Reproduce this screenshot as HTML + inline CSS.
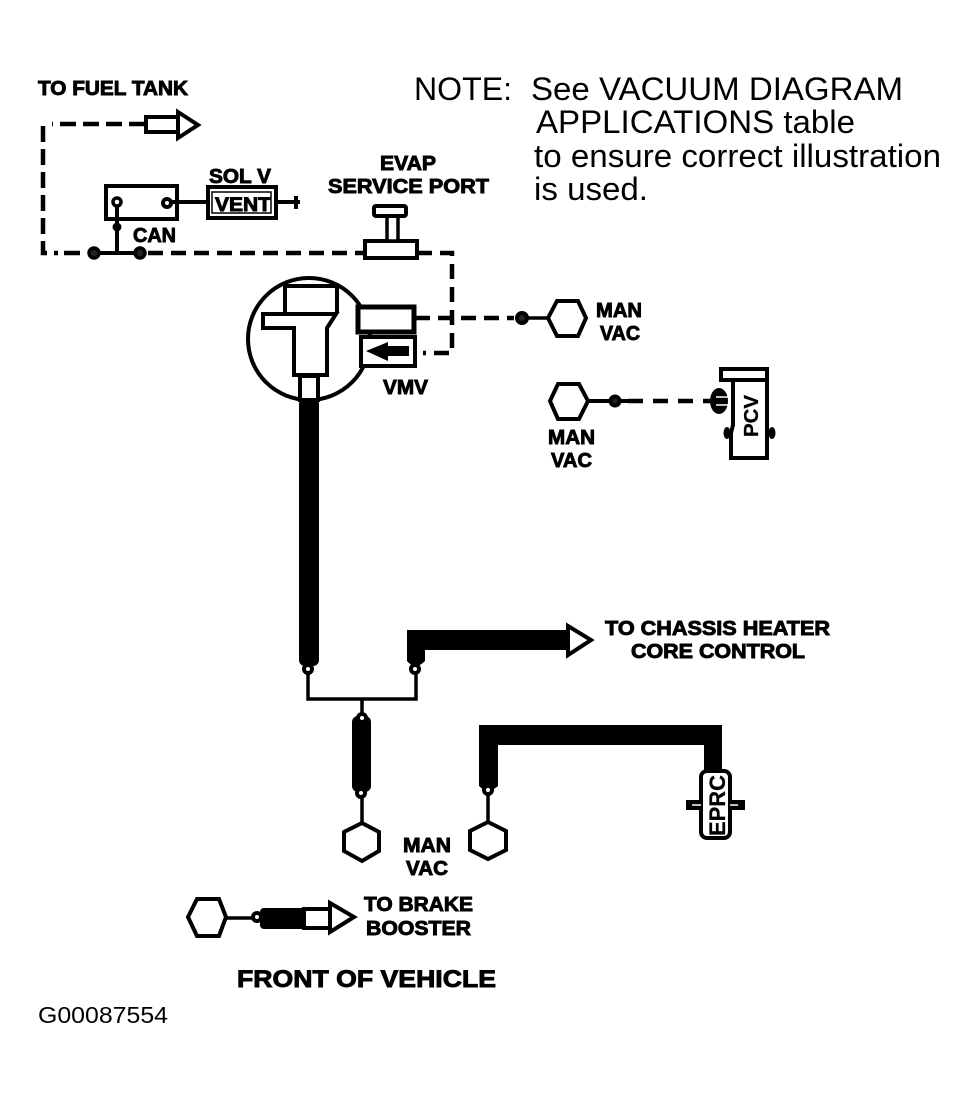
<!DOCTYPE html>
<html><head><meta charset="utf-8"><style>
html,body{margin:0;padding:0;background:#fff}
svg{display:block}
text{font-family:"Liberation Sans",sans-serif;fill:#000}
.b{font-weight:bold;stroke:#000;stroke-width:.9}
.t{font-weight:bold;stroke:#000;stroke-width:.3}
</style></head><body>
<svg width="976" height="1099" viewBox="0 0 976 1099" xmlns="http://www.w3.org/2000/svg">
<rect width="976" height="1099" fill="#fff"/>

<!-- Note text -->
<text x="414" y="100" font-size="32" textLength="98" lengthAdjust="spacingAndGlyphs">NOTE:</text>
<text x="531" y="100" font-size="32" textLength="372" lengthAdjust="spacingAndGlyphs">See VACUUM DIAGRAM</text>
<text x="536" y="133" font-size="32" textLength="319" lengthAdjust="spacingAndGlyphs">APPLICATIONS table</text>
<text x="534" y="167" font-size="32" textLength="407" lengthAdjust="spacingAndGlyphs">to ensure correct illustration</text>
<text x="534" y="200" font-size="32" textLength="114" lengthAdjust="spacingAndGlyphs">is used.</text>

<!-- Labels -->
<g font-size="20">
<text class="b" x="38" y="95" textLength="150" lengthAdjust="spacingAndGlyphs">TO FUEL TANK</text>
<text class="b" x="209" y="183" textLength="62" lengthAdjust="spacingAndGlyphs">SOL V</text>
<text class="b" x="380" y="170" textLength="56" lengthAdjust="spacingAndGlyphs">EVAP</text>
<text class="b" x="328" y="193" textLength="161" lengthAdjust="spacingAndGlyphs">SERVICE PORT</text>
<text class="b" x="133" y="242" textLength="43" lengthAdjust="spacingAndGlyphs">CAN</text>
<text class="b" x="383" y="394" textLength="45" lengthAdjust="spacingAndGlyphs">VMV</text>
<text class="b" x="596" y="317" textLength="46" lengthAdjust="spacingAndGlyphs">MAN</text>
<text class="b" x="600" y="340" textLength="40" lengthAdjust="spacingAndGlyphs">VAC</text>
<text class="b" x="548" y="444" textLength="47" lengthAdjust="spacingAndGlyphs">MAN</text>
<text class="b" x="551" y="467" textLength="41" lengthAdjust="spacingAndGlyphs">VAC</text>
<text class="b" x="605" y="635" textLength="225" lengthAdjust="spacingAndGlyphs">TO CHASSIS HEATER</text>
<text class="b" x="631" y="658" textLength="174" lengthAdjust="spacingAndGlyphs">CORE CONTROL</text>
<text class="b" x="403" y="852" textLength="48" lengthAdjust="spacingAndGlyphs">MAN</text>
<text class="b" x="406" y="875" textLength="42" lengthAdjust="spacingAndGlyphs">VAC</text>
<text class="b" x="364" y="911" textLength="109" lengthAdjust="spacingAndGlyphs">TO BRAKE</text>
<text class="b" x="366" y="935" textLength="105" lengthAdjust="spacingAndGlyphs">BOOSTER</text>
</g>
<text class="b" x="237" y="987" font-size="24" textLength="259" lengthAdjust="spacingAndGlyphs">FRONT OF VEHICLE</text>
<text x="38" y="1023" font-size="23" textLength="130" lengthAdjust="spacingAndGlyphs">G00087554</text>

<!-- Dashed lines -->
<g fill="none" stroke="#000" stroke-width="4.5">
<path d="M145 124H52M43 126V253H58M64 253H80" stroke-dasharray="16 7"/>
<path d="M148 253H364" stroke-dasharray="15 8"/>
<path d="M417 253H452V353H423" stroke-dasharray="15 8"/>
<path d="M415 318H514" stroke-dasharray="15 8"/>
<path d="M628 401H712" stroke-dasharray="15 10"/>
</g>

<!-- Fuel tank arrow -->
<path d="M146 117H178V132H146Z" fill="#fff" stroke="#000" stroke-width="4"/>
<path d="M178 112L198 125L178 138Z" fill="#fff" stroke="#000" stroke-width="4"/>

<!-- Canister -->
<rect x="106" y="186" width="71" height="33" fill="#fff" stroke="#000" stroke-width="4"/>
<circle cx="117" cy="202" r="4" fill="#fff" stroke="#000" stroke-width="3.5"/>
<circle cx="167" cy="203" r="4" fill="#fff" stroke="#000" stroke-width="4"/>
<path d="M117 206V253M171 202H208M276 202H300M296 196V209" stroke="#000" stroke-width="4" fill="none"/>
<circle cx="117" cy="227" r="4.5" fill="#000"/>
<path d="M88 253H146" stroke="#000" stroke-width="4"/>
<circle cx="94" cy="253" r="5" fill="#222" stroke="#000" stroke-width="3.5"/>
<circle cx="140" cy="253" r="5" fill="#222" stroke="#000" stroke-width="3.5"/>
<!-- Vent -->
<rect x="208" y="187" width="68" height="31" fill="#fff" stroke="#000" stroke-width="4"/>
<rect x="212" y="192" width="59" height="21" fill="#fff" stroke="#000" stroke-width="1.5"/>
<text class="b" x="215" y="211" font-size="19" textLength="56" lengthAdjust="spacingAndGlyphs">VENT</text>

<!-- Service port -->
<rect x="365" y="241" width="52" height="17" fill="#fff" stroke="#000" stroke-width="4"/>
<rect x="387" y="216" width="11" height="25" fill="#fff" stroke="#000" stroke-width="3.5"/>
<rect x="374" y="206" width="32" height="10" rx="2" fill="#fff" stroke="#000" stroke-width="4"/>

<!-- VMV -->
<circle cx="309" cy="339" r="61" fill="#fff" stroke="#000" stroke-width="4"/>
<path d="M285 313V286H337V313" fill="none" stroke="#000" stroke-width="4"/>
<path d="M263 314H336L327 328V375H294V328H263Z" fill="#fff" stroke="#000" stroke-width="4"/>
<rect x="300" y="376" width="18" height="24" fill="#fff" stroke="#000" stroke-width="4"/>
<rect x="358" y="307" width="56" height="25" fill="#fff" stroke="#000" stroke-width="5"/>
<rect x="361" y="337" width="54" height="29" fill="#fff" stroke="#000" stroke-width="4"/>
<path d="M366 351L388 342V346H409V356H388V361Z" fill="#000"/>

<!-- Hose 1 -->
<rect x="299" y="398" width="20" height="268" rx="6" fill="#000"/>
<circle cx="308" cy="669" r="6" fill="#000"/>
<circle cx="308" cy="669" r="2" fill="#fff"/>
<path d="M308 674V699H416V674" fill="none" stroke="#000" stroke-width="3.5"/>
<circle cx="415" cy="669" r="6" fill="#000"/>
<circle cx="415" cy="669" r="2" fill="#fff"/>

<!-- Hose 2 (chassis heater) -->
<path d="M407 630H568V650H425V661Q420 666 416 666Q411 666 407 661Z" fill="#000"/>
<path d="M568 626L591 640L568 655Z" fill="#fff" stroke="#000" stroke-width="4"/>

<!-- Middle hose + hexagon -->
<path d="M362 699V825" stroke="#000" stroke-width="3.5"/>
<rect x="352" y="716" width="19" height="76" rx="6" fill="#000"/>
<circle cx="362" cy="718" r="6" fill="#000"/>
<circle cx="362" cy="718" r="2" fill="#fff"/>
<circle cx="361" cy="793" r="6" fill="#000"/>
<circle cx="361" cy="793" r="2" fill="#fff"/>
<path d="M362 823L379 832V851L362 861L344 851V832Z" fill="#fff" stroke="#000" stroke-width="4"/>

<!-- EPRC hose -->
<path d="M479 725H722V771H704V745H498V786Q494 790 488 790Q483 790 479 786Z" fill="#000"/>
<circle cx="488" cy="790" r="6" fill="#000"/>
<circle cx="488" cy="790" r="2" fill="#fff"/>
<path d="M488 795V821" stroke="#000" stroke-width="3.5"/>
<path d="M488 822L506 831V850L488 859L470 850V831Z" fill="#fff" stroke="#000" stroke-width="4"/>

<!-- EPRC -->
<rect x="686" y="800" width="59" height="10" fill="#000"/>
<rect x="701" y="771" width="29" height="67" rx="6" fill="#fff" stroke="#000" stroke-width="4"/>
<path d="M692 805H701M730 805H738" stroke="#fff" stroke-width="1.5"/>
<text class="t" transform="translate(725 836) rotate(-90)" font-size="22" textLength="61" lengthAdjust="spacingAndGlyphs">EPRC</text>

<!-- Top right MAN VAC -->
<path d="M522 318H548" stroke="#000" stroke-width="3.5"/>
<circle cx="522" cy="318" r="5" fill="#222" stroke="#000" stroke-width="4"/>
<path d="M557 301H578L586 318L578 336H557L548 318Z" fill="#fff" stroke="#000" stroke-width="4"/>

<!-- Second MAN VAC -->
<path d="M588 401H628" stroke="#000" stroke-width="4"/>
<circle cx="615" cy="401" r="4.5" fill="#222" stroke="#000" stroke-width="4"/>
<path d="M558 384H579L588 401L579 419H558L550 401Z" fill="#fff" stroke="#000" stroke-width="4"/>

<!-- PCV -->
<path d="M733 380V425L731 433V458H767V380Z" fill="#fff" stroke="#000" stroke-width="4"/>
<ellipse cx="727" cy="433" rx="3.5" ry="6" fill="#000"/>
<ellipse cx="772" cy="433" rx="3.5" ry="6" fill="#000"/>
<rect x="721" y="369" width="46" height="11" fill="#fff" stroke="#000" stroke-width="4"/>
<ellipse cx="719" cy="401" rx="9" ry="13" fill="#000"/>
<path d="M716 397H728M716 405H728" stroke="#fff" stroke-width="1.5"/>
<text class="t" transform="translate(758 437) rotate(-90)" font-size="20" textLength="42" lengthAdjust="spacingAndGlyphs">PCV</text>

<!-- Brake booster -->
<path d="M227 918H252" stroke="#000" stroke-width="3.5"/>
<path d="M197 899H219L226 917L219 936H197L188 917Z" fill="#fff" stroke="#000" stroke-width="4"/>
<rect x="260" y="908" width="50" height="21" rx="4" fill="#000"/>
<circle cx="257" cy="917" r="6" fill="#000"/>
<circle cx="257" cy="917" r="2" fill="#fff"/>
<rect x="304" y="909" width="27" height="19" fill="#fff" stroke="#000" stroke-width="4"/>
<path d="M330 903L354 917L330 932Z" fill="#fff" stroke="#000" stroke-width="4"/>
</svg>
</body></html>
